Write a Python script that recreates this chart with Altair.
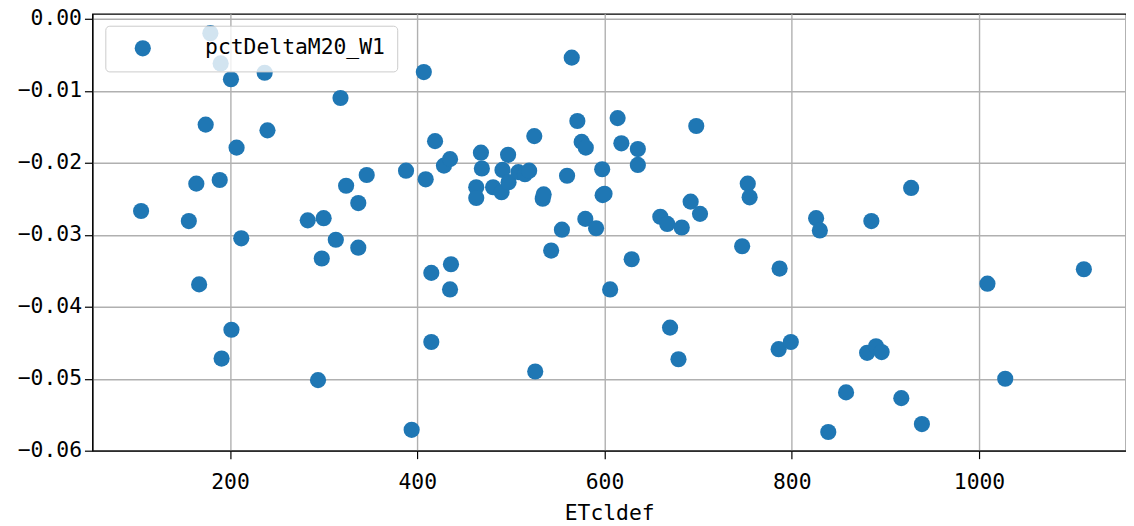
import altair as alt
import pandas as pd

# Values
etcldef = [105, 156, 164, 167, 174, 179, 189, 190, 191, 201, 201.5, 207, 212, 237, 240,
           283, 294, 298, 300, 313, 318, 324, 337, 337, 346, 388, 394, 407, 409, 415,
           415, 419, 428.5, 435, 435, 436, 463, 463, 468, 469, 481, 490, 491, 497,
           497.5, 508, 515, 519.5, 525, 526, 534, 535, 543, 554.5, 560, 565, 571,
           575.6, 580, 579.5, 591, 597.5, 598, 600, 606, 614, 618, 629, 635.6, 635.6,
           659.6, 667, 670, 679, 682.5, 692, 698, 702, 747, 753, 755, 786, 787, 799,
           826, 830, 839, 858, 880.5, 885, 890, 896, 917, 927.5, 939, 1009, 1028, 1112]
pct_delta = [-0.0267, -0.0281, -0.0229, -0.0369, -0.0147, -0.0020, -0.0224, -0.0062,
             -0.0472, -0.0084, -0.0432, -0.0179, -0.0305, -0.0075, -0.0155, -0.0280,
             -0.0502, -0.0333, -0.0277, -0.0307, -0.0110, -0.0232, -0.0256, -0.0318,
             -0.0217, -0.0211, -0.0571, -0.0074, -0.0223, -0.0353, -0.0449, -0.0170,
             -0.0204, -0.0195, -0.0376, -0.0341, -0.0234, -0.0249, -0.0186, -0.0208,
             -0.0234, -0.0241, -0.0210, -0.0189, -0.0227, -0.0213, -0.0216, -0.0211,
             -0.0163, -0.0490, -0.0250, -0.0244, -0.0322, -0.0293, -0.0218, -0.0054,
             -0.0142, -0.0171, -0.0179, -0.0278, -0.0291, -0.0209, -0.0245, -0.0243,
             -0.0376, -0.0138, -0.0173, -0.0334, -0.0181, -0.0203, -0.0275, -0.0285,
             -0.0429, -0.0473, -0.0290, -0.0254, -0.0149, -0.0271, -0.0316, -0.0229,
             -0.0248, -0.0459, -0.0347, -0.0449, -0.0277, -0.0294, -0.0574, -0.0519,
             -0.0464, -0.0281, -0.0455, -0.0463, -0.0527, -0.0235, -0.0563, -0.0368,
             -0.0500, -0.0348]
series_name = "pctDeltaM20_W1"
x_ticks = [200, 400, 600, 800, 1000]
y_ticks = [-0.06, -0.05, -0.04, -0.03, -0.02, -0.01, 0.0]

df = pd.DataFrame({"ETcldef": etcldef, "value": pct_delta,
                   "series": [series_name] * len(etcldef)})

FONT = "DejaVu Sans Mono"
FS = 21.5

chart = alt.Chart(df).mark_circle(size=265, opacity=1, color="#1f77b4").encode(
    x=alt.X("ETcldef:Q",
            scale=alt.Scale(domain=[53, 1157], nice=False, zero=False),
            axis=alt.Axis(values=x_ticks, format="d", title="ETcldef",
                          titleFontWeight="normal", titleFontSize=FS, titleFont=FONT,
                          titleColor="black", titlePadding=10)),
    y=alt.Y("value:Q",
            scale=alt.Scale(domain=[-0.06, 0.00069], nice=False, zero=False),
            axis=alt.Axis(values=y_ticks, format=".2f", title=None)),
    color=alt.Color("series:N",
                    scale=alt.Scale(domain=[series_name], range=["#1f77b4"]),
                    legend=alt.Legend(title=None, orient="none", legendX=13, legendY=12,
                                      symbolType="circle", symbolSize=265,
                                      symbolOpacity=1, symbolStrokeWidth=0,
                                      symbolOffset=15, labelOffset=52, labelLimit=500,
                                      labelFont=FONT, labelFontSize=FS,
                                      labelColor="black",
                                      fillColor="rgba(255,255,255,0.8)",
                                      strokeColor="#cccccc", cornerRadius=4,
                                      padding=12)),
).properties(
    width=1041, height=440,
    padding={"left": 85, "top": 4, "right": 0, "bottom": 76},
    autosize=alt.AutoSizeParams(type="none"),
).configure_view(
    stroke="black", strokeWidth=1.2
).configure_axis(
    grid=True, gridColor="#b0b0b0", gridWidth=1.4, gridOpacity=1,
    domain=True, domainColor="black", domainWidth=1.2,
    ticks=True, tickColor="black", tickSize=8, tickWidth=1.2,
    labelFont=FONT, labelFontSize=FS, labelColor="black", labelPadding=3,
).configure_axisX(
    labelPadding=13
)

chart.save("out.html", embed_options={"renderer": "svg", "actions": False})
